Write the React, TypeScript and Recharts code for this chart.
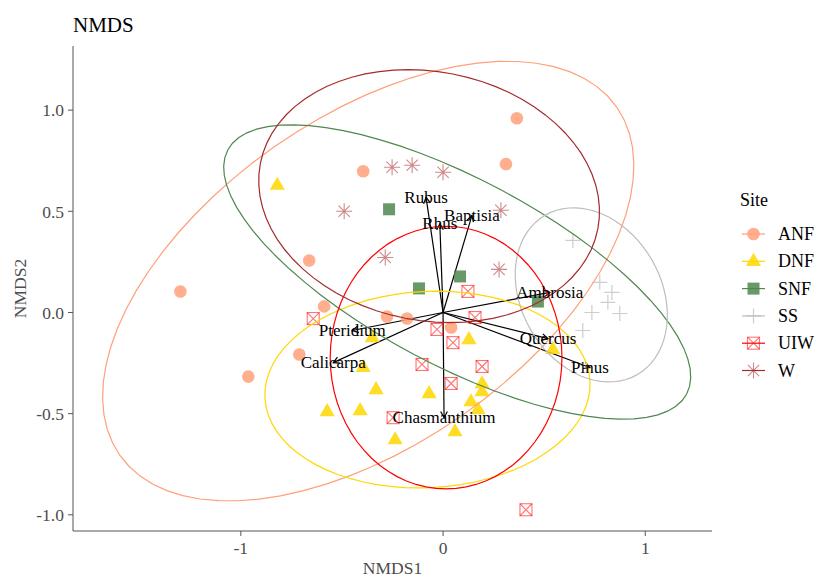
import { ScatterChart, Scatter, XAxis, YAxis, ReferenceLine, ReferenceDot } from "recharts";

const FONT = '"Liberation Serif", "Times New Roman", serif';

// site groups
const sites = ["ANF", "DNF", "SNF", "SS", "UIW", "W"];
const siteColours = ["#FFA07A", "#FFD700", "#4F874F", "#BEBEBE", "#FF0000", "#A52A2A"];
const siteShapes = ["circle", "triangle", "square", "plus", "boxcross", "asterisk"];

// site scores (NMDS1, NMDS2)
const anfPoints = [[-1.299, 0.104], [-0.963, -0.317], [-0.711, -0.208], [-0.662, 0.257], [-0.588, 0.03], [-0.395, 0.698], [-0.277, -0.02], [-0.178, -0.03], [0.04, -0.074], [0.311, 0.733], [0.365, 0.96]];
const dnfPoints = [[-0.82, 0.629], [-0.35, -0.124], [0.128, -0.134], [-0.395, -0.272], [-0.331, -0.381], [-0.069, -0.401], [0.193, -0.352], [0.193, -0.391], [0.138, -0.441], [0.173, -0.48], [-0.573, -0.49], [-0.41, -0.485], [0.059, -0.589], [-0.237, -0.629], [0.543, -0.183]];
const snfPoints = [[-0.267, 0.51], [0.084, 0.178], [-0.119, 0.119], [0.469, 0.054]];
const ssPoints = [[0.642, 0.356], [0.775, 0.149], [0.835, 0.099], [0.815, 0.05], [0.736, 0.0], [0.874, -0.005], [0.691, -0.089]];
const uiwPoints = [[0.123, 0.104], [-0.642, -0.03], [0.158, -0.025], [-0.03, -0.084], [0.049, -0.149], [-0.104, -0.257], [0.193, -0.267], [0.04, -0.351], [-0.247, -0.52], [0.41, -0.975]];
const wPoints = [[-0.252, 0.718], [-0.153, 0.728], [0.0, 0.693], [-0.489, 0.5], [0.286, 0.505], [-0.286, 0.272], [0.277, 0.213]];
const sitePoints = [anfPoints, dnfPoints, snfPoints, ssPoints, uiwPoints, wPoints];

// 95% ellipses: centre, semi-axes, rotation (deg)
const ellipseCx = [-0.37, -0.077, 0.07, 0.733, 0.015, -0.069];
const ellipseCy = [0.155, -0.381, 0.2, 0.087, -0.223, 0.575];
const ellipseA = [1.5, 0.805, 1.285, 0.455, 0.573, 0.85];
const ellipseB = [0.81, 0.485, 0.46, 0.346, 0.649, 0.615];
const ellipseAngle = [35, 3, -28, -60, 0, -11];

// species vectors
const species = ["Rubus", "Rhus", "Baptisia", "Ambrosia", "Quercus", "Pinus", "Chasmanthium", "Calicarpa", "Pteridium"];
const speciesX = [-0.084, -0.016, 0.143, 0.528, 0.519, 0.726, 0.005, -0.543, -0.449];
const speciesY = [0.569, 0.439, 0.48, 0.099, -0.129, -0.272, -0.52, -0.248, -0.089];

const xTicks = [-1, 0, 1];
const yTicks = [-1, -0.5, 0, 0.5, 1];

function ellipseOutline(i: number) {
  const th = (ellipseAngle[i] * Math.PI) / 180;
  const pts = [];
  for (let k = 0; k <= 72; k++) {
    const t = (k / 72) * 2 * Math.PI;
    const u = ellipseA[i] * Math.cos(t);
    const v = ellipseB[i] * Math.sin(t);
    pts.push({ x: ellipseCx[i] + u * Math.cos(th) - v * Math.sin(th), y: ellipseCy[i] + u * Math.sin(th) + v * Math.cos(th) });
  }
  return pts;
}

function Marker({ kind, cx, cy, colour }: { kind: string; cx: number; cy: number; colour: string }) {
  if (kind === "circle") return <circle cx={cx} cy={cy} r={6.3} fill={colour} fillOpacity={0.85} />;
  if (kind === "triangle")
    return <path d={`M${cx},${cy - 8.5}L${cx + 7.6},${cy + 4.6}L${cx - 7.6},${cy + 4.6}Z`} fill={colour} fillOpacity={0.85} />;
  if (kind === "square") return <rect x={cx - 6} y={cy - 6} width={12} height={12} fill={colour} fillOpacity={0.85} />;
  if (kind === "plus")
    return <path d={`M${cx - 7.5},${cy}H${cx + 7.5}M${cx},${cy - 7.5}V${cy + 7.5}`} stroke={colour} strokeWidth={1.2} strokeOpacity={0.75} fill="none" />;
  if (kind === "boxcross")
    return (
      <g stroke={colour} strokeOpacity={0.55} strokeWidth={1.1} fill="none">
        <rect x={cx - 6} y={cy - 6} width={12} height={12} />
        <path d={`M${cx - 6},${cy - 6}L${cx + 6},${cy + 6}M${cx + 6},${cy - 6}L${cx - 6},${cy + 6}`} />
      </g>
    );
  const r = 8;
  const d = r * 0.7071;
  return (
    <path
      d={`M${cx - r},${cy}H${cx + r}M${cx},${cy - r}V${cy + r}M${cx - d},${cy - d}L${cx + d},${cy + d}M${cx + d},${cy - d}L${cx - d},${cy + d}`}
      stroke={colour}
      strokeOpacity={0.55}
      strokeWidth={1.1}
      fill="none"
    />
  );
}

const arrowShape = (props: any) => {
  const { x1, y1, x2, y2 } = props;
  const ang = Math.atan2(y2 - y1, x2 - x1);
  const len = 7;
  const a1 = ang + Math.PI - 0.5;
  const a2 = ang + Math.PI + 0.5;
  return (
    <g stroke="#000" strokeWidth={1.2} fill="none">
      <line x1={x1} y1={y1} x2={x2} y2={y2} />
      <path d={`M${x2 + len * Math.cos(a1)},${y2 + len * Math.sin(a1)}L${x2},${y2}L${x2 + len * Math.cos(a2)},${y2 + len * Math.sin(a2)}`} />
    </g>
  );
};

const axisTick = { fill: "#4d4d4d", fontSize: 17.5, fontFamily: FONT };

export default function App() {
  return (
    <div style={{ position: "absolute", left: 0, top: 0, width: 817, height: 579, background: "#fff" }}>
      <ScatterChart width={817} height={579} margin={{ top: 46, right: 105, bottom: 0, left: 0 }}>
        <XAxis
          type="number"
          dataKey="x"
          domain={[-1.83, 1.33]}
          ticks={xTicks}
          allowDataOverflow
          height={48}
          tickSize={5}
          tickMargin={6}
          stroke="#555"
          tick={axisTick}
        />
        <YAxis
          type="number"
          dataKey="y"
          domain={[-1.08, 1.317]}
          ticks={yTicks}
          allowDataOverflow
          width={73}
          tickSize={5}
          tickMargin={4}
          stroke="#555"
          tick={axisTick}
          tickFormatter={(v: number) => v.toFixed(1)}
        />
        {sitePoints.map((pts, i) => (
          <Scatter
            key={sites[i]}
            name={sites[i]}
            data={pts.map(([x, y]) => ({ x, y }))}
            isAnimationActive={false}
            shape={(p: any) => <Marker kind={siteShapes[i]} cx={p.cx} cy={p.cy} colour={siteColours[i]} />}
          />
        ))}
        {sites.map((s, i) => (
          <Scatter
            key={s + "-ellipse"}
            data={ellipseOutline(i)}
            isAnimationActive={false}
            line={{ stroke: siteColours[i], strokeWidth: 1.2 }}
            lineType="joint"
            shape={() => <g />}
          />
        ))}
        {species.map((sp, i) => (
          <ReferenceLine
            key={sp}
            segment={[{ x: 0, y: 0 }, { x: speciesX[i], y: speciesY[i] }]}
            shape={arrowShape}
          />
        ))}
        {species.map((sp, i) => (
          <ReferenceDot
            key={sp + "-label"}
            x={speciesX[i]}
            y={speciesY[i]}
            r={0}
            shape={(p: any) => (
              <text x={p.cx} y={p.cy} textAnchor="middle" dominantBaseline="central" fontSize={17} fontFamily={FONT} fill="#000">
                {sp}
              </text>
            )}
          />
        ))}
      </ScatterChart>
      <svg width={817} height={579} style={{ position: "absolute", left: 0, top: 0, pointerEvents: "none" }}>
        <text x={73} y={32} fontSize={21} fontFamily={FONT} fill="#000">NMDS</text>
        <text x={392.5} y={574} textAnchor="middle" fontSize={17.5} fontFamily={FONT} fill="#4d4d4d">NMDS1</text>
        <text x={26} y={288.5} textAnchor="middle" fontSize={17.5} fontFamily={FONT} fill="#4d4d4d" transform="rotate(-90 26 288.5)">NMDS2</text>
        <text x={740} y={206} fontSize={18} fontFamily={FONT} fill="#000">Site</text>
        {sites.map((s, i) => {
          const cy = 234 + i * 27.3;
          return (
            <g key={s}>
              <line x1={742} x2={765} y1={cy} y2={cy} stroke={siteColours[i]} strokeWidth={1.2} />
              <Marker kind={siteShapes[i]} cx={753.5} cy={cy} colour={siteColours[i]} />
              <text x={778} y={cy + 6} fontSize={18} fontFamily={FONT} fill="#000">{s}</text>
            </g>
          );
        })}
      </svg>
    </div>
  );
}
